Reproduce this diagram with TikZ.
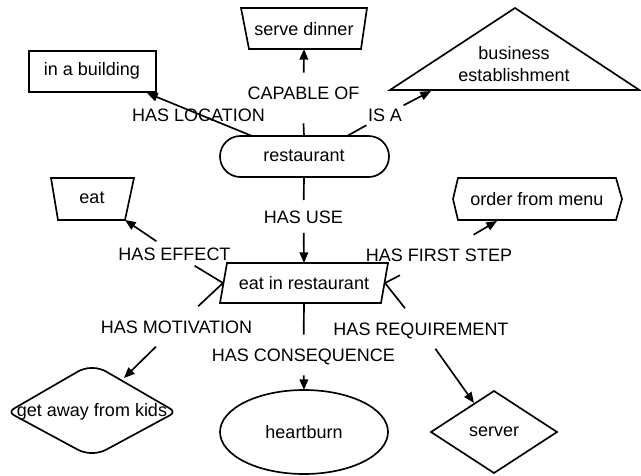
\documentclass[tikz,border=0pt]{standalone}
\usepackage{fontspec}
\setmainfont{Liberation Sans}
\usetikzlibrary{arrows.meta}
\begin{document}
\begin{tikzpicture}[x=0.75pt,y=-0.75pt,
  shp/.style={draw=black, line width=1.25pt, line join=miter},
  txt/.style={font=\fontsize{13.5}{16.5}\selectfont, inner sep=0pt, align=center},
  lbl/.style={font=\fontsize{13.5}{16.5}\selectfont, inner xsep=1pt, inner ysep=0pt, text height=9.75pt, text depth=0pt, minimum height=30pt},
  con/.style={line width=1.25pt},
  arr/.style={con, -{Triangle[length=8pt,width=6.5pt]}}]
\useasboundingbox (0,0) rectangle (641,475);

% shapes
\draw[shp] (241,8) -- (367,8) -- (361,49) -- (249,49) -- cycle;
\node[txt] (sd) at (304,29) {serve dinner};
\draw[shp] (29,51) rectangle (156,92);
\node[txt] (bld) at (92,71) {in a building};
\draw[shp] (515,8) -- (639.3,90) -- (390,90) -- cycle;
\node[txt] (be) at (514,64) {business\\establishment};
\draw[shp, rounded corners=15.3pt] (220,136) rectangle (389,177);
\node[txt] (rst) at (304,156) {restaurant};
\draw[shp] (51,178) -- (134,178) -- (125,220) -- (58,220) -- cycle;
\node[txt] (eat) at (92,198) {eat};
\draw[shp] (453,199) -- (458,178) -- (616,178) -- (622,199) -- (616,220) -- (458,220) -- cycle;
\node[txt] (ofm) at (537,199) {order from menu};
\draw[shp] (227,263) -- (388,263) -- (381,303) -- (220,303) -- cycle;
\node[txt] (eir) at (304,283) {eat in restaurant};
\draw[shp, rounded corners=5pt] (8,412) -- (84,368) -- (100,368) -- (176,412) -- (100,453) -- (84,453) -- cycle;
\node[txt] (gak) at (92,412) {get away from kids};
\draw[shp] (304,432) ellipse [x radius=63pt, y radius=31.5pt];
\node[txt] (hb) at (304,432) {heartburn};
\draw[shp] (431,432) -- (494,391) -- (557,432) -- (494,473) -- cycle;
\node[txt] (srv) at (494,432) {server};

% connector end points
\coordinate (rst-n) at (304,136);
\coordinate (rst-nw) at (252,136);
\coordinate (rst-ne) at (347,136);
\coordinate (rst-s) at (304,177);
\coordinate (sd-s) at (304,49);
\coordinate (bld-se) at (147,93);
\coordinate (be-b) at (431,91);
\coordinate (eir-n) at (304,263);
\coordinate (eir-s) at (304,303);
\coordinate (eir-w) at (223,283);
\coordinate (eir-e) at (385,283);
\coordinate (eat-se) at (125,220);
\coordinate (ofm-s) at (497,221);
\coordinate (gak-ne) at (124,378);
\coordinate (hb-n) at (304,390);
\coordinate (srv-nw) at (474,403);

% labels
\node[lbl] (lcap) at (303.5,93) {CAPABLE OF};
\node[lbl, minimum height=0pt] (lloc) at (198.5,115) {HAS LOCATION};
\node[lbl] (lisa) at (385,115) {IS A};
\node[lbl, minimum height=24pt] (luse) at (303.5,216.5) {HAS USE};
\node[lbl, minimum height=18pt] (leff) at (174.5,253.5) {HAS EFFECT};
\node[lbl] (lfst) at (439,255) {HAS FIRST STEP};
\node[lbl] (lmot) at (176.5,326.5) {HAS MOTIVATION};
\node[lbl] (lreq) at (421,328.5) {HAS REQUIREMENT};
\node[lbl] (lcon) at (303.5,355) {HAS CONSEQUENCE};

% connectors
\draw[con] (rst-n) -- ([yshift=-7.5pt]lcap.south);
\draw[arr] (lcap) -- (sd-s);
\draw[arr] (rst-nw) -- (bld-se);
\draw[con] (rst-ne) -- (lisa);
\draw[arr] (lisa) -- (be-b);
\draw[con] (rst-s) -- (luse);
\draw[arr] (luse) -- (eir-n);
\draw[con] (eir-w) -- (leff);
\draw[arr] (leff) -- (eat-se);
\draw[con] (eir-w) -- (lmot);
\draw[arr] (lmot) -- (gak-ne);
\draw[con] (eir-e) -- (lfst);
\draw[arr] (lfst) -- (ofm-s);
\draw[con] (eir-e) -- (lreq);
\draw[arr] (lreq) -- (srv-nw);
\draw[con] (eir-s) -- (lcon);
\draw[arr] (lcon) -- (hb-n);
\end{tikzpicture}
\end{document}
